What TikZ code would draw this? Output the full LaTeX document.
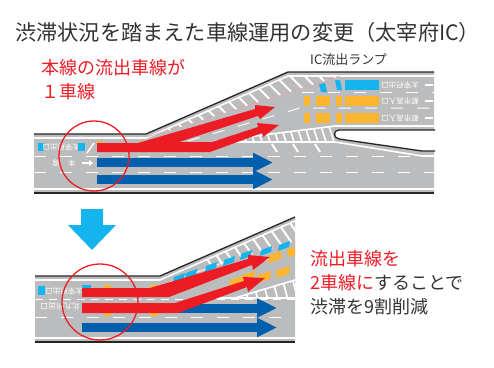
\documentclass[tikz,border=0pt]{standalone}
\usepackage{fontspec}
\setmainfont{Noto Sans CJK JP}
\usetikzlibrary{
    positioning,
    arrows.meta
}
\definecolor{roadgray}{HTML}{BBBCBE}
\definecolor{lanered}{HTML}{ED1C24}
\definecolor{laneblue}{HTML}{0060AE}
\definecolor{signblue}{HTML}{14B4EE}
\definecolor{signorange}{HTML}{FDB52F}
\definecolor{textdark}{HTML}{333333}

\begin{document}
\begin{tikzpicture}[x=1pt,y=-1pt]

    % --- Styles ---
    \tikzset{
        road_edge/.style={draw=black!85, line width=1.3pt},
        road_line/.style={draw=white, line width=1.6pt},
        lane_dash/.style={draw=white, line width=1pt, dash pattern=on 12pt off 14pt},
        zebra_line/.style={draw=white, line width=2pt},
        guide_line/.style={draw=pink!80!red, line width=0.5pt},
        blue_arrow/.style={
            -{Triangle[length=20pt,width=18pt]},
            draw=laneblue, line width=9pt
        },
        mark_text/.style={font=\fontsize{7.5}{7.5}\selectfont, text=white, rotate=180, inner sep=0pt},
        focus_ring/.style={draw=lanered, line width=1.3pt},
        red_text/.style={font=\fontsize{18}{24}\selectfont, text=lanered, align=left, anchor=west, inner sep=0pt}
    }
    \useasboundingbox (0,0) rectangle (494,367);

    % --- Texts ---
    \node[font=\fontsize{21.2}{24}\selectfont, text=textdark, anchor=west, inner sep=0pt] (title) at (15,32) {渋滞状況を踏まえた車線運用の変更（太宰府IC）};
    \node[red_text] (before_text) at (41,80) {本線の流出車線が\\１車線};
    \node[font=\fontsize{13}{15}\selectfont, text=textdark, anchor=west, inner sep=0pt] (ramp_text) at (310,60) {IC流出ランプ};
    \node[red_text, text=textdark] (after_text) at (310,283) {\textcolor{lanered}{流出車線を}\\\textcolor{lanered}{2車線に}することで\\渋滞を9割削減};

    % --- Upper road ---
    \fill[roadgray] (34,134) -- (146,134) -- (288,72) -- (434,72) -- (434,193) -- (34,193) -- cycle;
    \draw[road_line] (34,138) -- (146,138) -- (288,76) -- (434,76);
    \draw[road_line] (34,189) -- (434,189);
    \draw[lane_dash] (34,156) -- (434,156);
    \draw[lane_dash] (34,172) -- (434,172);
    \draw[lane_dash] (302,92) -- (434,92);
    \draw[lane_dash] (188,141) -- (300,108) -- (434,108);
    \draw[guide_line] (147,137) -- (340,76);
    \begin{scope}
        \clip (146,138) -- (288,76) -- (340,76) -- cycle;
        \foreach \c in {40,54.5,...,270}
            \draw[zebra_line] (\c+60,60) -- ++(100,100);
    \end{scope}
    \begin{scope}
        \clip (215,141) -- (335,126) -- (335,141) -- cycle;
        \foreach \x in {215,223,...,335}
            \draw[zebra_line, line width=1.6pt] (\x,120) -- ++(8,25);
    \end{scope}
    \draw[road_line] (215,141) -- (335,126) -- (434,126);
    \draw[road_line] (215,142) -- (335,142) -- (422,156) -- (434,156);
    \foreach \x in {272,293,315}
        \draw[zebra_line] (\x,144) -- ++(5,8);
    \fill[white, draw=black!85, line width=1.3pt] (435,130) -- (339,130) .. controls (333,130) and (333,138) .. (339,139) -- (422,151) -- (435,151);

    % Road signs on the ramp
    \fill[signblue] (345,80) rectangle (379,90);
    \fill[signblue] (319,84) -- (325,83) -- (327,92) -- (321,92) -- cycle;
    \fill[signblue] (335,80) -- (340,80) -- (342,90) -- (337,90) -- cycle;
    \foreach \y in {96,113} {
        \fill[signorange] (304,\y) rectangle (310,\y+10);
        \fill[signorange] (316,\y) rectangle (330,\y+10);
        \fill[signorange] (336,\y) rectangle (342,\y+10);
        \fill[signorange] (345,\y) rectangle (379,\y+10);
    }
    \node[mark_text] (exit_sign) at (400,85) {太宰府出口};
    \node[mark_text] (city_sign_a) at (400,101) {都市高入口};
    \node[mark_text] (city_sign_b) at (400,118) {都市高入口};
    \foreach \y in {85,101,118}
        \draw[white, line width=2pt] (425,\y) -- (433,\y);

    % Road signs on the left
    \fill[signblue] (38,143) rectangle (44,151);
    \node[mark_text] (left_sign) at (61,147) {太宰府出口};
    \fill[signblue] (78,143) rectangle (85,151);
    \node[mark_text] (main_sign) at (64,163) {本\hspace{8pt}線};
    \draw[white, line width=1.5pt] (87,153) -- (94,143);
    \draw[white, -{Triangle[length=4pt,width=6pt]}, line width=2.5pt] (82,163) -- (93,163);
    \fill[signorange] (97,141) rectangle (102,146);
    \fill[signorange] (140,141) rectangle (146,146);

    \draw[road_edge] (34,134) -- (146,134) -- (288,72) -- (434,72);
    \draw[road_edge] (34,193) -- (434,193);

    % Lanes before the change
    \fill[lanered] (97,143) -- (138,143) -- (255,109) -- (255,105) -- (275,107) -- (260,119) -- (258,116)
        -- (179,142) -- (212,142) -- (258,127) -- (257,123) -- (279,125) -- (263,137) -- (262,133)
        -- (210,152) -- (97,152) -- cycle;
    \draw[blue_arrow] (97,162.5) -- (273,162.5);
    \draw[blue_arrow] (97,179.5) -- (273,179.5);
    \draw[focus_ring] (94,156) circle [radius=35pt];

    % --- Arrow between the roads ---
    \fill[signblue] (81,209) -- (103,209) -- (103,225) -- (116,225) -- (92,250) -- (68,225) -- (81,225) -- cycle;

    % --- Lower road ---
    \fill[roadgray] (35,276) -- (160,276) -- (295,217) -- (295,342) -- (35,342) -- cycle;
    \draw[road_line] (35,280) -- (160,280) -- (295,221);
    \draw[road_line] (35,338) -- (295,338);
    \draw[lane_dash, dash pattern=on 8pt off 6pt] (35,299) -- (295,299);
    \draw[lane_dash] (35,317) -- (295,317);
    \draw[guide_line] (173,280) -- (295,241);
    \draw[road_line, line width=0.8pt] (165,284) -- (225,262);
    \begin{scope}
        \clip (160,280) -- (295,221) -- (295,241) -- (173,280) -- cycle;
        \foreach \x in {180,192,...,310}
            \draw[zebra_line] (\x,220) -- ++(45,65);
    \end{scope}
    \begin{scope}
        \clip (235,298) -- (295,280) -- (295,298) -- cycle;
        \foreach \x in {240,250,...,300}
            \draw[zebra_line, line width=1.6pt] (\x,270) -- ++(8,30);
    \end{scope}
    \draw[road_line] (235,298) -- (295,280);
    \draw[road_line] (200,298) -- (295,298);
    \draw[lane_dash] (190,286) -- (295,250);

    % Road signs on the lower road
    \fill[signblue] (38,286) rectangle (45,295);
    \node[mark_text] (left_sign_b) at (64,291) {太宰府出口};
    \node[mark_text, font=\fontsize{8}{8}\selectfont] (north_sign) at (60,307) {北九州出口};
    \fill[signblue] (82,285) rectangle (91,290);
    \fill[signorange] (104,285) rectangle (111,290);
    \fill[signorange] (150,285) rectangle (158,290);
    \fill[signorange] (104,311) rectangle (111,316);
    \fill[signorange] (150,311) rectangle (158,316);
    \foreach \x/\y in {173/283,185/279,205/272,223/266,240/260,260/256,278/251}
        \fill[signblue] (\x,\y) -- ++(11,-4) -- ++(1,-6) -- ++(-11,4) -- cycle;
    \foreach \x/\y in {229/288,241/283,268/263,257/283,276/278}
        \fill[signorange] (\x,\y) -- ++(13,-4) -- ++(1,-8) -- ++(-13,4) -- cycle;
    \fill[signorange] (288,257) -- (295,255) -- (295,247) -- (287,249) -- cycle;

    \draw[road_edge] (35,276) -- (160,276) -- (295,217);
    \draw[road_edge] (35,342) -- (295,342);

    % Lanes after the change
    \draw[blue_arrow] (178,308) -- (277,308);
    \draw[blue_arrow] (82,327.5) -- (277,327.5);
    \fill[lanered] (82,288) -- (150,288) -- (248,259) -- (248,255) -- (270,257) -- (253,270) -- (252,265)
        -- (169,297) -- (82,297) -- cycle;
    \fill[lanered] (82,303) -- (175,303) -- (244,281) -- (243,277) -- (265,278) -- (248,292) -- (247,287)
        -- (178,313) -- (82,313) -- cycle;
    \draw[focus_ring] (100,302) circle [radius=38pt];

\end{tikzpicture}
\end{document}
